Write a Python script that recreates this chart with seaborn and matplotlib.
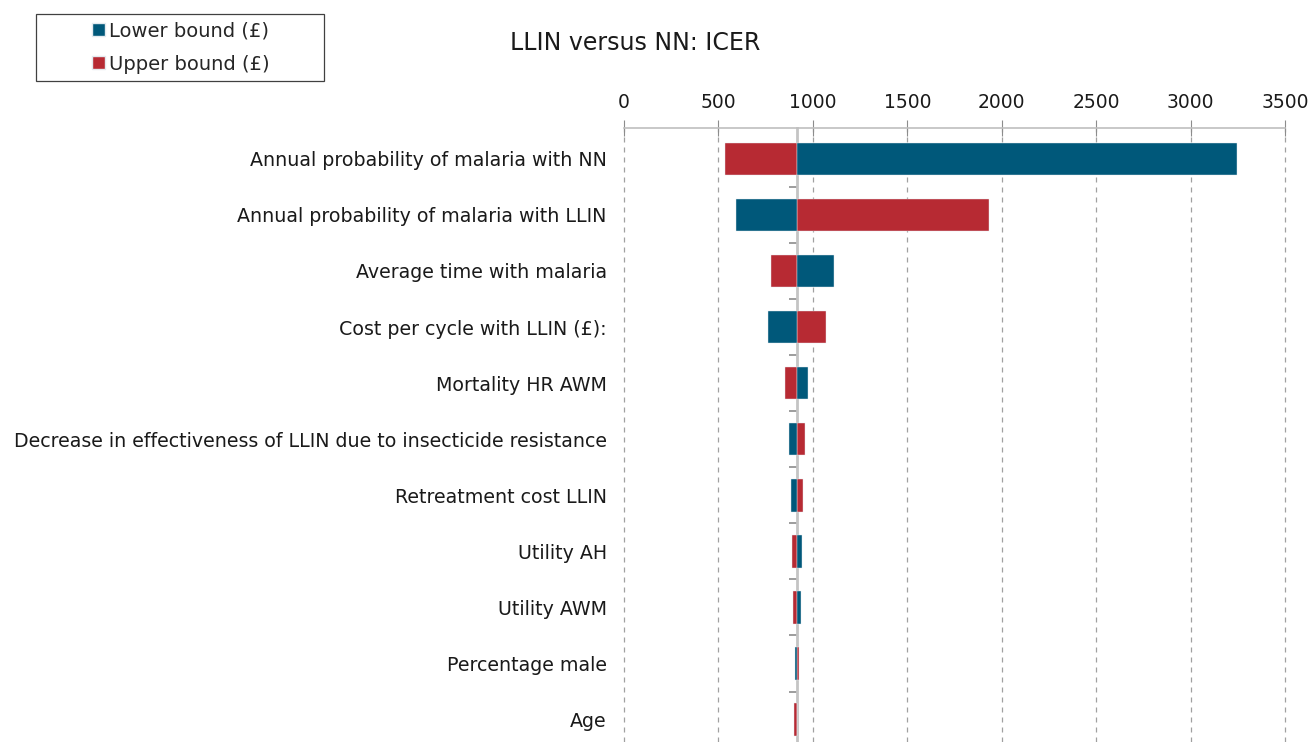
import numpy as np
import pandas as pd
import matplotlib
matplotlib.use('Agg')
import matplotlib.pyplot as plt
import seaborn as sns
from matplotlib.patches import Patch, Rectangle

sns.set_style('white')
plt.rcParams['font.family'] = ['DejaVu Sans']

# %% data
params = [
    'Annual probability of malaria with NN',
    'Annual probability of malaria with LLIN',
    'Average time with malaria',
    'Cost per cycle with LLIN (£):',
    'Mortality HR AWM',
    'Decrease in effectiveness of LLIN due to insecticide resistance',
    'Retreatment cost LLIN',
    'Utility AH',
    'Utility AWM',
    'Percentage male',
    'Age',
]
base_icer = 918
lower_icer = [3246, 593, 1112, 762, 975, 875, 884, 942, 937, 904, 918]
upper_icer = [535, 1933, 778, 1068, 851, 957, 946, 890, 895, 929, 899]

blue = '#00587A'
red = '#B72A33'

df = pd.DataFrame({'param': params, 'lower': lower_icer, 'upper': upper_icer})
df['lower_w'] = df['lower'] - base_icer
df['upper_w'] = df['upper'] - base_icer

# %% plot
fig = plt.figure(figsize=(13.11, 7.42), dpi=100)
ax = fig.add_axes([624/1311, 0, (1285-624)/1311, 1 - 128/742])

ypos = np.arange(len(params))
bh = 0.58
ax.barh(ypos, df['upper_w'], left=base_icer, height=bh, color=red,
        edgecolor='#e3eaef', linewidth=0.3, zorder=3)
ax.barh(ypos, df['lower_w'], left=base_icer, height=bh, color=blue,
        edgecolor='#e3eaef', linewidth=0.3, zorder=3)

ax.set_xlim(0, 3500)
ax.set_ylim(10.4, -0.55)
ax.xaxis.tick_top()
ax.set_xticks(range(0, 3501, 500))
ax.tick_params(axis='x', which='major', direction='inout', length=11, width=0.8,
               color='#8c8c8c', labelsize=13.5, pad=6, labelcolor='#1a1a1a')

ax.set_yticks(ypos)
ax.set_yticklabels(params)
ax.set_yticks(np.arange(len(params) - 1) + 0.5, minor=True)
ax.tick_params(axis='y', which='major', left=False, right=False, pad=9,
               labelsize=13.7, labelcolor='#1a1a1a')
ax.tick_params(axis='y', which='minor', left=False, right=True, direction='in',
               length=6, width=1.2, color='#8c8c8c')

for s in ['left', 'bottom']:
    ax.spines[s].set_visible(False)
ax.spines['top'].set_color('#bfbfbf')
ax.spines['top'].set_linewidth(1.2)
ax.spines['right'].set_position(('data', base_icer))
ax.spines['right'].set_color('#c4c4c4')
ax.spines['right'].set_linewidth(2)
ax.spines['right'].set_zorder(2.5)

ax.grid(axis='x', color='#a0a0a0', linestyle=(0, (4, 4)), linewidth=0.9)
ax.grid(axis='y', visible=False)
ax.set_axisbelow(True)
for gl in ax.get_xgridlines():
    gl.set_clip_on(False)

fig.text(635/1311, 1 - 43/742, 'LLIN versus NN: ICER', fontsize=17,
         ha='center', va='center', color='#1a1a1a')

# legend box drawn separately so the entries sit centred in it
fig.patches.append(Rectangle((36/1311, 1 - 81/742), 288/1311, 67/742,
                             transform=fig.transFigure, fill=False,
                             edgecolor='#404040', linewidth=0.9))
handles = [Patch(facecolor=blue, edgecolor='#e3eaef'),
           Patch(facecolor=red, edgecolor='#e3eaef')]
fig.legend(handles, ['Lower bound (£)', 'Upper bound (£)'],
           loc='center', bbox_to_anchor=(181/1311, 1 - 47.5/742),
           fontsize=14, frameon=False, handlelength=0.65,
           handleheight=0.65, handletextpad=0.25, borderpad=0,
           labelspacing=0.75, borderaxespad=0)

fig.savefig('out.png', dpi=100)
